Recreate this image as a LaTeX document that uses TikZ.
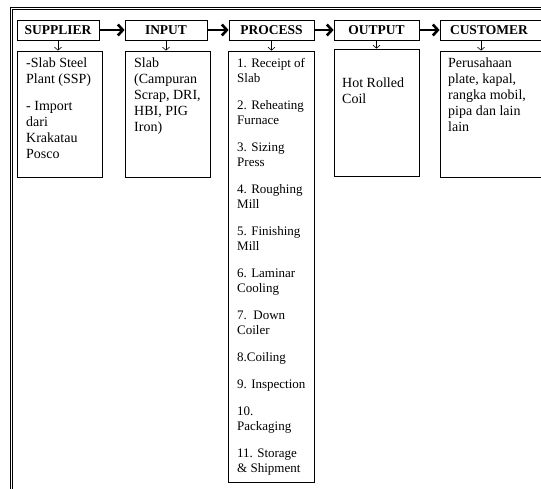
\documentclass[tikz,border=0pt]{standalone}
\usepackage{fontspec}
\setmainfont{Liberation Serif}
\usetikzlibrary{arrows.meta}
\begin{document}
\begin{tikzpicture}[x=1pt,y=-1pt,
 hdr/.style={draw, line width=0.8pt, inner sep=0, minimum height=20pt, font=\bfseries\fontsize{13.5}{15}\selectfont},
 cbox/.style={draw, line width=0.8pt, inner sep=0},
 txt/.style={anchor=north west, inner sep=0, align=left, font=\fontsize{14}{16}\selectfont},
 ptxt/.style={anchor=north west, inner sep=0, align=left, font=\fontsize{13}{15}\selectfont},
 bigarrow/.style={line width=2.6pt, -{Straight Barb[length=5pt,width=11pt]}},
 smallarrow/.style={line width=0.6pt, -{Straight Barb[length=3pt,width=7pt]}}]
\useasboundingbox (0,0) rectangle (541,488);
\clip (0,0) rectangle (541,488);
% outer frame
\draw[line width=1pt] (10,7.5) rectangle (570,520);
\draw[line width=0.8pt] (12,9.5) rectangle (568,518);
% headers
\node[hdr, minimum width=82pt] (sup) at (58,30) {SUPPLIER};
\node[hdr, minimum width=82pt] (inp) at (166,30) {INPUT};
\node[hdr, minimum width=85pt] (proc) at (271.5,30) {PROCESS};
\node[hdr, minimum width=85pt] (out) at (376.5,30) {OUTPUT};
\node[hdr, minimum width=120pt, text width=120pt, align=left] (cust) at (500,30) {\hspace*{10pt}CUSTOMER};
% content boxes
\node[cbox, minimum width=85pt, minimum height=126pt] (supb) at (59.5,114) {};
\node[cbox, minimum width=85pt, minimum height=126pt] (inpb) at (167.5,114) {};
\node[cbox, minimum width=86pt, minimum height=431pt] (procb) at (271,266.5) {};
\node[cbox, minimum width=85pt, minimum height=127pt] (outb) at (376.5,112.5) {};
\node[cbox, minimum width=120pt, minimum height=126pt] (custb) at (500,114) {};
% texts
\node[txt] (supt) at (26,57.5) {-Slab Steel\\Plant (SSP)\\[11pt]- Import\\dari\\Krakatau\\Posco};
\node[txt] (inpt) at (134,57.5) {Slab\\(Campuran\\Scrap, DRI,\\HBI, PIG\\Iron)};
\node[ptxt] (proct) at (237,58) {1. Receipt of\\Slab\\[12pt]2. Reheating\\Furnace\\[12pt]3. Sizing\\Press\\[12pt]4. Roughing\\Mill\\[12pt]5. Finishing\\Mill\\[12pt]6. Laminar\\Cooling\\[12pt]7.\ \ Down\\Coiler\\[12pt]8.Coiling\\[12pt]9. Inspection\\[12pt]10.\\Packaging\\[12pt]11. Storage\\\& Shipment};
\node[txt] (outt) at (342,78) {Hot Rolled\\Coil};
\node[txt] (custt) at (448,57.5) {Perusahaan\\plate, kapal,\\rangka mobil,\\pipa dan lain\\lain};
% big arrows
\draw[bigarrow] (sup.east) -- (inp.west);
\draw[bigarrow] (inp.east) -- (proc.west);
\draw[bigarrow] (proc.east) -- (out.west);
\draw[bigarrow] (out.east) -- (cust.west);
% small arrows
\draw[smallarrow] (sup.south) -- (sup.south |- supb.north);
\draw[smallarrow] (inp.south) -- (inp.south |- inpb.north);
\draw[smallarrow] (proc.south) -- (proc.south |- procb.north);
\draw[smallarrow] (out.south) -- (out.south |- outb.north);
\draw[smallarrow] ([xshift=-19pt]cust.south) -- ([xshift=-19pt]cust.south |- custb.north);
\end{tikzpicture}
\end{document}
